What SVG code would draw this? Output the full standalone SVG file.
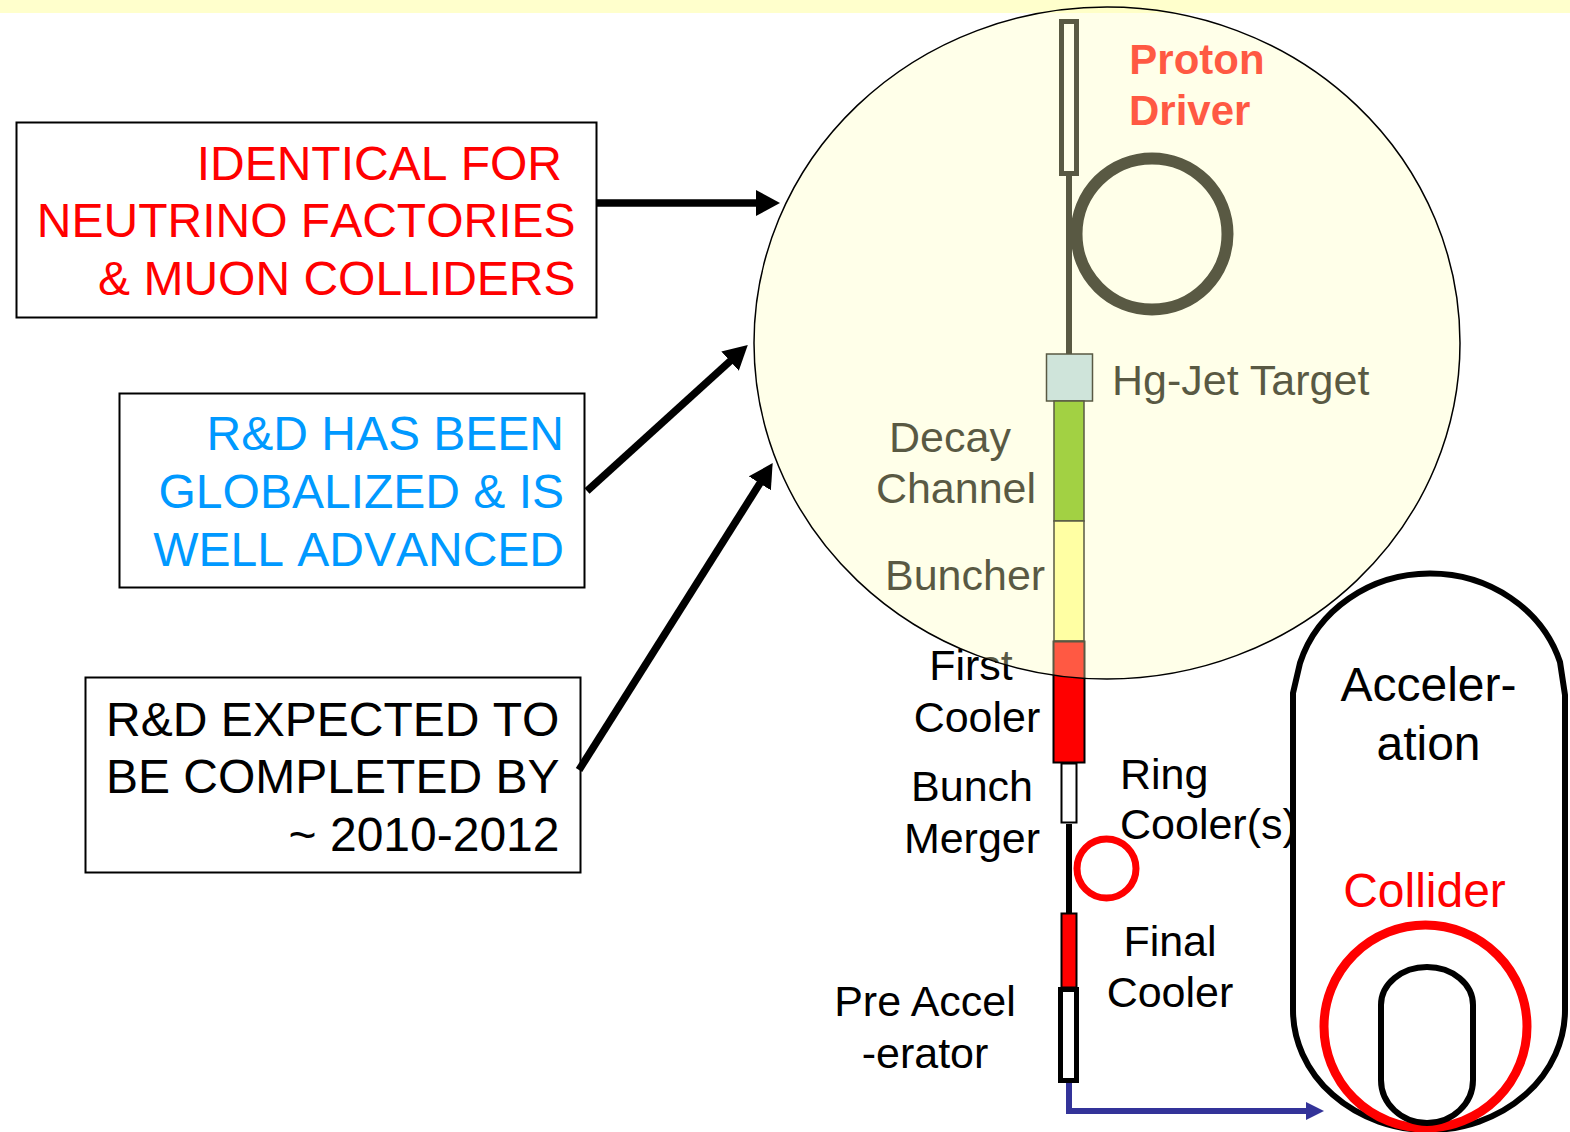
<svg xmlns="http://www.w3.org/2000/svg" width="1570" height="1132" viewBox="0 0 1570 1132">
<style>
text{font-family:"Liberation Sans",Arial,sans-serif;fill:#000}
.b{font-size:48px;font-kerning:none}
.l{font-size:43px}
.h{font-size:42px;font-weight:bold}
.m{text-anchor:middle}
.e{text-anchor:end}
.red{fill:#f00}
.blue{fill:#0099ff}
.box{fill:#fff;stroke:#000;stroke-width:2}
.th{fill:none;stroke:#000;stroke-width:7.5}
</style>
<defs>
<marker id="ah" markerUnits="userSpaceOnUse" viewBox="0 0 24 26" refX="4" refY="13" markerWidth="24" markerHeight="26" orient="auto"><path d="M0 0L24 13L0 26Z" fill="#000"/></marker>
<marker id="ab" markerUnits="userSpaceOnUse" viewBox="0 0 18 18" refX="4" refY="9" markerWidth="18" markerHeight="18" orient="auto"><path d="M0 0L18 9L0 18Z" fill="#333399"/></marker>
</defs>
<rect width="1570" height="1132" fill="#fff"/>
<rect id="band" width="1570" height="13" fill="#ffffcc"/>
<g id="box-identical"><rect class="box" x="16.500" y="122.500" width="580" height="195"/>
<text class="b e red" x="562" y="180">IDENTICAL FOR</text><text class="b e red" x="575.500" y="237">NEUTRINO FACTORIES</text><text class="b e red" x="575.500" y="295">&amp; MUON COLLIDERS</text></g>
<g id="box-globalized"><rect class="box" x="119.500" y="393.500" width="465" height="194"/>
<text class="b e blue" x="564" y="450">R&amp;D HAS BEEN</text><text class="b e blue" x="564" y="508">GLOBALIZED &amp; IS</text><text class="b e blue" x="564" y="566">WELL ADVANCED</text></g>
<g id="box-completed"><rect class="box" x="85.500" y="677.500" width="495" height="195"/>
<text class="b" x="106" y="736">R&amp;D EXPECTED TO</text><text class="b" x="106" y="793">BE COMPLETED BY</text><text class="b e" x="559.500" y="851">~ 2010-2012</text></g>
<g id="connectors">
<path class="th" d="M596 203H760" marker-end="url(#ah)"/>
<path class="th" d="M587 491L733 358.500" marker-end="url(#ah)"/>
<path class="th" d="M579 770L762 480" marker-end="url(#ah)"/>
<path d="M1069 1081V1111H1310" fill="none" stroke="#333399" stroke-width="6" marker-end="url(#ab)"/>
</g>
<g id="proton-driver"><path d="M1069 176V354" stroke="#000" stroke-width="6"/><rect x="1061.500" y="21.500" width="15" height="152" fill="#fff" stroke="#000" stroke-width="5"/>
<circle cx="1152" cy="234" r="75.500" fill="none" stroke="#000" stroke-width="12"/>
<text class="h m red" x="1197" y="74">Proton</text><text class="h red" x="1129" y="125">Driver</text></g>
<g id="target"><rect x="1046.500" y="354" width="46" height="47" fill="#b5d6e8" stroke="#000" stroke-width="1.500"/><text class="l" x="1112" y="395">Hg-Jet Target</text></g>
<g id="decay-channel"><rect x="1054" y="401" width="30" height="120" fill="#70b800" stroke="#000" stroke-width="1.500"/><text class="l m" x="950" y="452">Decay</text><text class="l m" x="956" y="503">Channel</text></g>
<g id="buncher"><rect x="1054" y="521" width="30" height="120" fill="#ffff94" stroke="#000" stroke-width="1.500"/><text class="l" x="885" y="590">Buncher</text></g>
<g id="first-cooler"><rect x="1053.500" y="641.500" width="31" height="121" fill="#f00" stroke="#000" stroke-width="2"/><text class="l m" x="971" y="680">First</text><text class="l m" x="977" y="732">Cooler</text></g>
<g id="bunch-merger"><path d="M1069 824V913" stroke="#000" stroke-width="6"/><rect x="1061.500" y="763.500" width="15" height="59" fill="#fff" stroke="#000" stroke-width="2"/><text class="l m" x="972" y="801">Bunch</text><text class="l m" x="972" y="853">Merger</text></g>
<g id="ring-cooler"><circle cx="1106.500" cy="868.500" r="29.500" fill="none" stroke="#f00" stroke-width="7"/><text class="l" x="1120" y="789">Ring</text><text class="l" x="1120" y="839">Cooler(s)</text></g>
<g id="final-cooler"><rect x="1061.500" y="913.500" width="15" height="74" fill="#f00" stroke="#000" stroke-width="2"/><text class="l m" x="1170" y="956">Final</text><text class="l m" x="1170" y="1007">Cooler</text></g>
<g id="pre-accelerator"><rect x="1060.500" y="989.500" width="16" height="91" fill="#fff" stroke="#000" stroke-width="5"/><text class="l m" x="925" y="1016">Pre Accel</text><text class="l m" x="925" y="1068">-erator</text></g>
<g id="acceleration"><path d="M1293 1010V693L1300 663A136 126 0 0 1 1560 662L1565 695V1010A136 120 0 0 1 1293 1010Z" fill="none" stroke="#000" stroke-width="6"/><text class="b m" x="1428.500" y="701">Acceler-</text><text class="b m" x="1428.500" y="760">ation</text></g>
<g id="collider"><circle cx="1425.500" cy="1026.500" r="101.500" fill="none" stroke="#f00" stroke-width="9"/><path d="M1381 1005A46 38 0 0 1 1473 1005V1080A46 43 0 0 1 1381 1080Z" fill="none" stroke="#000" stroke-width="6"/><text class="b m red" x="1424.500" y="907">Collider</text></g>
<ellipse id="front-end-highlight" cx="1107" cy="343" rx="353" ry="336" fill="#ffffc0" fill-opacity=".35" stroke="#000" stroke-width="1.500"/>
</svg>
